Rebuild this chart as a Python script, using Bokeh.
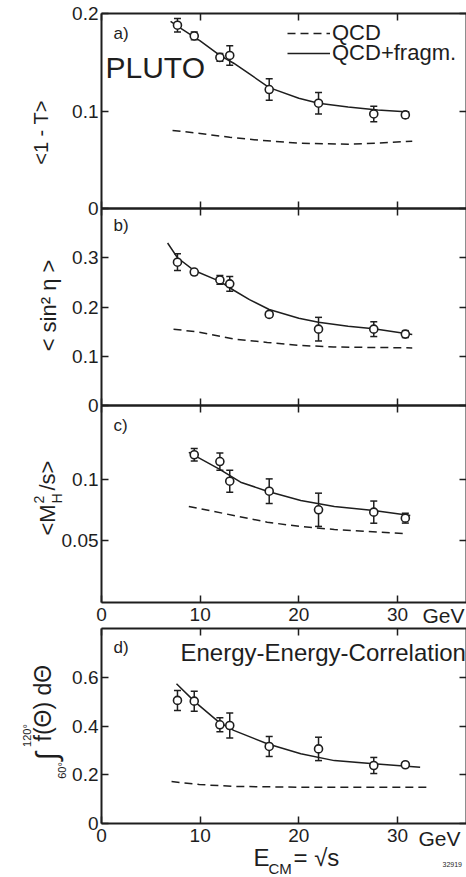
import math
from bokeh.plotting import figure
from bokeh.models import (ColumnDataSource, Whisker, TeeHead, FixedTicker,
                          LinearAxis, Label, Legend, LegendItem, Range1d)
from bokeh.embed import file_html
from bokeh.resources import INLINE

FONT = "Liberation Sans"
INK = "#1e1e1e"

# ---------------- data ----------------
E_cm = [7.7, 9.4, 12.0, 13.0, 17.0, 22.0, 27.6, 30.8]

# a) <1-T>
thrust = [0.188, 0.177, 0.155, 0.157, 0.122, 0.108, 0.097, 0.096]
thrust_err = [0.007, 0.004, 0.004, 0.010, 0.011, 0.011, 0.008, 0.003]
thrust_fit_x = [7.0, 8.0, 10.0, 12.0, 13.4, 15.0, 17.0, 20.0, 22.0, 25.0, 28.0, 31.2]
thrust_fit_y = [0.192, 0.185, 0.172, 0.157, 0.149, 0.138, 0.124, 0.113, 0.108, 0.104, 0.101, 0.099]
thrust_qcd_x = [7.2, 10.0, 13.0, 16.0, 20.0, 25.0, 28.0, 31.5]
thrust_qcd_y = [0.080, 0.077, 0.073, 0.070, 0.067, 0.066, 0.067, 0.069]

# b) <sin^2 eta>
sin2 = [0.291, 0.271, 0.255, 0.247, 0.185, 0.155, 0.155, 0.145]
sin2_err = [0.017, 0.005, 0.009, 0.015, 0.005, 0.024, 0.015, 0.007]
sin2_fit_x = [6.7, 7.7, 9.4, 12.0, 13.4, 15.0, 17.0, 20.0, 22.0, 25.0, 27.6, 31.5]
sin2_fit_y = [0.330, 0.300, 0.274, 0.252, 0.234, 0.215, 0.195, 0.177, 0.169, 0.161, 0.156, 0.144]
sin2_qcd_x = [7.3, 9.9, 13.4, 16.8, 20.1, 23.5, 26.9, 31.5]
sin2_qcd_y = [0.155, 0.149, 0.135, 0.128, 0.122, 0.119, 0.118, 0.117]

# c) <M_H^2/s>
E_cm_c = [9.4, 12.0, 13.0, 17.0, 22.0, 27.6, 30.8]
mh2 = [0.120, 0.1145, 0.0985, 0.0904, 0.0753, 0.0734, 0.0685]
mh2_err = [0.005, 0.007, 0.009, 0.010, 0.0135, 0.009, 0.004]
mh2_fit_x = [8.85, 11.9, 14.1, 16.8, 20.2, 23.6, 27.6, 31.3]
mh2_fit_y = [0.122, 0.1086, 0.0977, 0.0904, 0.0829, 0.078, 0.0747, 0.0707]
mh2_qcd_x = [8.85, 13.4, 16.8, 20.2, 23.6, 26.9, 31.0]
mh2_qcd_y = [0.078, 0.0707, 0.0652, 0.0617, 0.0593, 0.0577, 0.0558]

# d) Energy-energy correlation integral
eec = [0.505, 0.502, 0.405, 0.402, 0.316, 0.306, 0.238, 0.241]
eec_err = [0.041, 0.041, 0.029, 0.051, 0.041, 0.048, 0.033, 0.008]
eec_fit_x = [7.6, 9.5, 11.9, 13.4, 16.8, 20.2, 23.6, 27.6, 32.3]
eec_fit_y = [0.573, 0.498, 0.416, 0.382, 0.327, 0.286, 0.258, 0.245, 0.231]
eec_qcd_x = [7.1, 9.9, 13.4, 20.2, 27.0, 33.3]
eec_qcd_y = [0.172, 0.160, 0.152, 0.149, 0.149, 0.149]

# ticks
x_ticks = [0, 10, 20, 30]
x_tick_labels = ["0", "10", "20", "30"]
ya_ticks, ya_labels = [0, 0.1, 0.2], ["0", "0.1", "0.2"]
yb_ticks, yb_labels = [0, 0.1, 0.2, 0.3], ["0", "0.1", "0.2", "0.3"]
yc_ticks, yc_labels = [0.05, 0.1], ["0.05", "0.1"]
yd_ticks, yd_labels = [0, 0.2, 0.4, 0.6], ["0", "0.2", "0.4", "0.6"]

# ---------------- layout (pixels) ----------------
W, H = 466, 877
X_MIN, X_MAX = -10.24, 37.0
# panel bands: y0, y1, bottom px, top px
PANELS = {
    "a": (0.0, 0.2, 208, 13),
    "b": (0.0, 0.4, 405, 208),
    "c": (0.0, 0.16, 602, 405),
    "d": (0.0, 0.8, 823, 628),
}


def band_range(y0, y1, bot, top):
    s = (y1 - y0) / (bot - top)
    return Range1d(y0 - (H - bot) * s, y1 + top * s)


p = figure(width=W, height=H, x_range=Range1d(X_MIN, X_MAX),
           y_range=Range1d(-H, 0), output_backend="svg",
           toolbar_location=None, x_axis_location=None, y_axis_location=None,
           min_border=0, min_border_left=0, min_border_right=0,
           min_border_top=0, min_border_bottom=0)
p.outline_line_color = None
p.xgrid.grid_line_color = None
p.ygrid.grid_line_color = None
p.background_fill_color = "white"
p.border_fill_color = "white"
p.extra_x_ranges = {"px": Range1d(0, W)}
p.extra_y_ranges = {k: band_range(*v) for k, v in PANELS.items()}


def style_axis(ax, ticks, labels, show, standoff=4):
    ax.ticker = FixedTicker(ticks=ticks)
    ax.axis_line_color = INK
    ax.axis_line_width = 2
    ax.major_tick_line_color = INK
    ax.major_tick_line_width = 1.5
    ax.major_tick_in = 7
    ax.major_tick_out = 0
    ax.minor_tick_line_color = None
    ax.major_label_text_font = FONT
    ax.major_label_text_font_size = "19px"
    ax.major_label_standoff = standoff
    if show:
        ax.major_label_text_color = INK
        ax.major_label_overrides = {t: l for t, l in zip(ticks, labels)}
    else:
        ax.major_label_text_color = None


def panel_axes(name, y_ticks, y_labels, show_x):
    y0, y1, _, _ = PANELS[name]
    left = LinearAxis(y_range_name=name, fixed_location=0, bounds=(y0, y1))
    style_axis(left, y_ticks, y_labels, True, 3)
    p.add_layout(left, "left")
    right = LinearAxis(y_range_name=name, fixed_location=X_MAX, bounds=(y0, y1))
    style_axis(right, y_ticks, y_labels, False)
    p.add_layout(right, "right")
    below = LinearAxis(y_range_name=name, fixed_location=y0, bounds=(0, X_MAX))
    style_axis(below, x_ticks, x_tick_labels, show_x, 5)
    p.add_layout(below, "below")
    above = LinearAxis(y_range_name=name, fixed_location=y1, bounds=(0, X_MAX))
    style_axis(above, x_ticks, x_tick_labels, False)
    p.add_layout(above, "above")


def draw_series(name, xs, ys, errs, fx, fy, qx, qy):
    qcd = p.line(qx, qy, y_range_name=name, line_color=INK, line_width=1.5,
                 line_dash="8 5")
    fit = p.line(fx, fy, y_range_name=name, line_color=INK, line_width=1.5)
    src = ColumnDataSource(dict(x=xs, y=ys,
                                lo=[v - e for v, e in zip(ys, errs)],
                                hi=[v + e for v, e in zip(ys, errs)]))
    w = Whisker(source=src, base="x", lower="lo", upper="hi",
                y_range_name=name, dimension="height", line_color=INK,
                line_width=1.5,
                lower_head=TeeHead(size=7, line_color=INK, line_width=1.5),
                upper_head=TeeHead(size=7, line_color=INK, line_width=1.5))
    p.add_layout(w)
    p.scatter("x", "y", source=src, y_range_name=name, marker="circle",
              size=8, fill_color="white", line_color=INK, line_width=1.6)
    return qcd, fit


def txt(text, x, y, size, angle=0.0, align="left", baseline="middle"):
    """x, y: pixel position from the top-left corner of the page."""
    p.add_layout(Label(x=x, y=-y, x_range_name="px", text=text, angle=angle,
                       text_align=align, text_baseline=baseline,
                       text_font=FONT, text_font_size=f"{size}px",
                       text_color=INK))


def legend_row(label, renderer, row_center_y, item_h=26):
    p.add_layout(Legend(items=[LegendItem(label=label, renderers=[renderer])],
                        location=(287, H - row_center_y - item_h / 2),
                        border_line_color=None, background_fill_alpha=0,
                        padding=0, margin=0, spacing=0, glyph_width=43,
                        glyph_height=18, label_height=18, label_standoff=2,
                        label_text_font=FONT, label_text_font_size="22px",
                        label_text_color=INK))


ROT = math.pi / 2

# ---- panel a ----
panel_axes("a", ya_ticks, ya_labels, False)
qa, fa = draw_series("a", E_cm, thrust, thrust_err, thrust_fit_x,
                     thrust_fit_y, thrust_qcd_x, thrust_qcd_y)
txt("a)", 113, 33, 17)
txt("PLUTO", 105, 67, 30)
txt("<1 - T>", 40, 132, 20, angle=ROT, align="center")
legend_row("QCD", qa, 33)
legend_row("QCD+fragm.", fa, 53)

# ---- panel b ----
panel_axes("b", yb_ticks, yb_labels, False)
draw_series("b", E_cm, sin2, sin2_err, sin2_fit_x, sin2_fit_y,
            sin2_qcd_x, sin2_qcd_y)
txt("b)", 113, 225, 17)
txt("< sin² η >", 48, 305, 22, angle=ROT, align="center")

# ---- panel c ----
panel_axes("c", yc_ticks, yc_labels, True)
draw_series("c", E_cm_c, mh2, mh2_err, mh2_fit_x, mh2_fit_y,
            mh2_qcd_x, mh2_qcd_y)
txt("c)", 113, 425, 17)
txt("<M", 47, 535, 22, angle=ROT)
txt("2", 38, 503, 14, angle=ROT)
txt("H", 56, 503, 14, angle=ROT)
txt(" /s>", 47, 490, 22, angle=ROT)
txt("GeV", 422, 615, 21)

# ---- panel d ----
panel_axes("d", yd_ticks, yd_labels, True)
draw_series("d", E_cm, eec, eec_err, eec_fit_x, eec_fit_y,
            eec_qcd_x, eec_qcd_y)
txt("d)", 113, 647, 17)
txt("Energy-Energy-Correlation", 180, 652, 24)
txt("f(Θ) dΘ", 42, 741, 23, angle=ROT)
txt("∫", 46, 756, 30, angle=ROT, align="center")
txt("120°", 26, 735, 11, angle=ROT, align="center")
txt("60°", 61, 770, 11, angle=ROT, align="center")
txt("GeV", 418, 838, 21)
txt("E", 253, 857, 24)
txt("CM", 268, 868, 15)
txt("= √s", 293, 857, 24)
txt("32919", 442, 864, 7)

open("out.html", "w").write(file_html(p, INLINE))
